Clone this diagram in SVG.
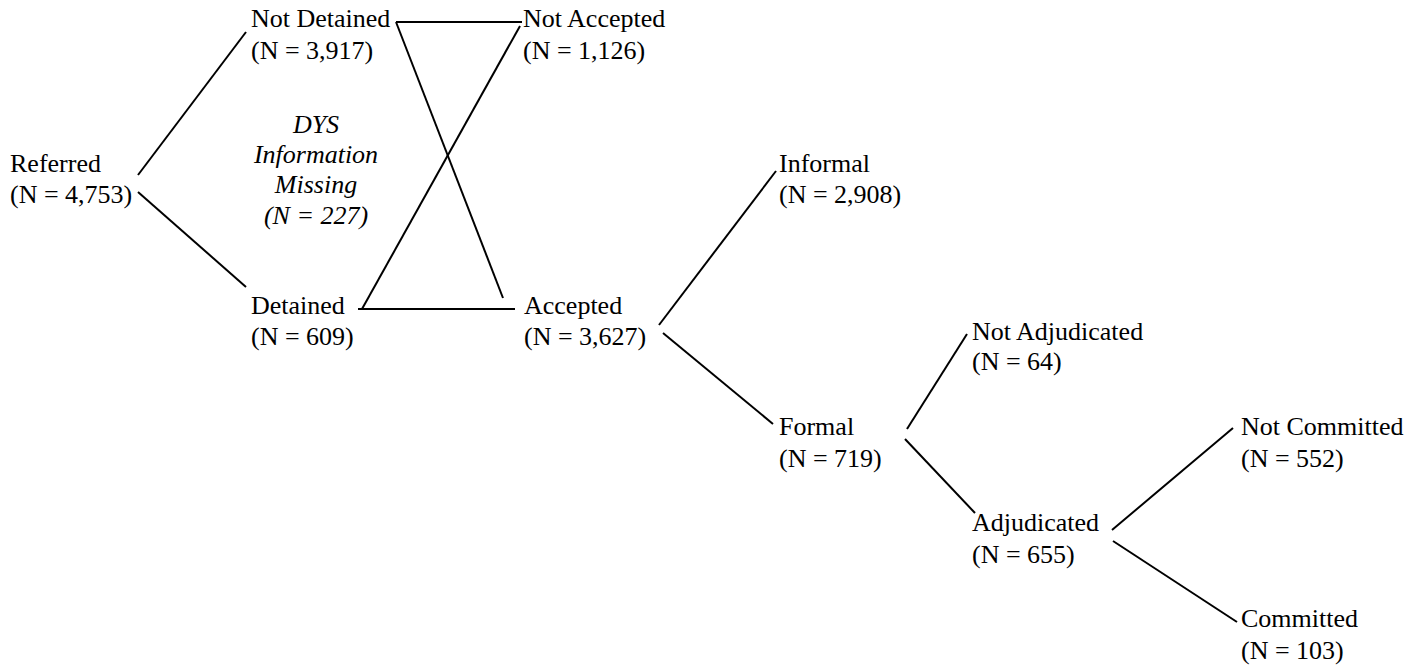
<svg xmlns="http://www.w3.org/2000/svg" width="1426" height="666" viewBox="0 0 1426 666">
<style>
text{font-family:"Liberation Serif","Times New Roman",serif;font-size:26px;fill:#000}
.it{font-style:italic;text-anchor:middle}
line{stroke:#000;stroke-width:2;fill:none}
</style>
<rect width="1426" height="666" fill="#fff"/>
<g id="connectors">
<line x1="138" y1="175" x2="246" y2="32"/>
<line x1="138" y1="192" x2="246" y2="287"/>
<line x1="396" y1="22" x2="522" y2="22"/>
<line x1="396" y1="22" x2="503" y2="298"/>
<line x1="362" y1="309" x2="520" y2="26"/>
<line x1="358" y1="309" x2="515" y2="309"/>
<line x1="659" y1="325" x2="776" y2="171"/>
<line x1="663" y1="333" x2="773" y2="424"/>
<line x1="907" y1="429" x2="967" y2="334"/>
<line x1="905" y1="439" x2="975" y2="513"/>
<line x1="1112" y1="530" x2="1233" y2="428"/>
<line x1="1113" y1="541" x2="1237" y2="622"/>
</g>
<g id="referred"><text x="10" y="172">Referred</text><text x="10" y="203">(N = 4,753)</text></g>
<g id="not-detained"><text x="251" y="27">Not Detained</text><text x="251" y="59">(N = 3,917)</text></g>
<g id="missing"><text class="it" x="316" y="133">DYS</text><text class="it" x="316" y="163">Information</text><text class="it" x="316" y="193">Missing</text><text class="it" x="316" y="224">(N = 227)</text></g>
<g id="detained"><text x="251" y="314">Detained</text><text x="251" y="345">(N = 609)</text></g>
<g id="not-accepted"><text x="523" y="27">Not Accepted</text><text x="523" y="59">(N = 1,126)</text></g>
<g id="accepted"><text x="524" y="314">Accepted</text><text x="524" y="345">(N = 3,627)</text></g>
<g id="informal"><text x="779" y="172">Informal</text><text x="779" y="203">(N = 2,908)</text></g>
<g id="formal"><text x="779" y="435">Formal</text><text x="779" y="467">(N = 719)</text></g>
<g id="not-adjudicated"><text x="972" y="340">Not Adjudicated</text><text x="972" y="370">(N = 64)</text></g>
<g id="adjudicated"><text x="972" y="531">Adjudicated</text><text x="972" y="563">(N = 655)</text></g>
<g id="not-committed"><text x="1241" y="435">Not Committed</text><text x="1241" y="467">(N = 552)</text></g>
<g id="committed"><text x="1241" y="627">Committed</text><text x="1241" y="659">(N = 103)</text></g>
</svg>
